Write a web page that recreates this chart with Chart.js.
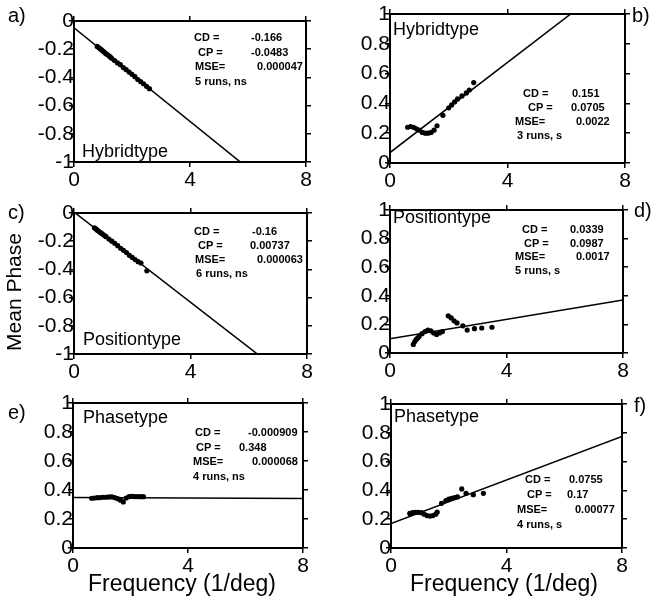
<!doctype html>
<html>
<head>
	<title>Mean Phase vs Frequency</title>
	<script src="https://cdn.jsdelivr.net/npm/chart.js@4.4.0/dist/chart.umd.min.js"></script>
	<style>
	body { margin: 0; background: #fff; }
	#fig { position: relative; width: 656px; height: 607px; font-family: "Liberation Sans", Arial, sans-serif; color: #000; }
	#fig canvas { position: absolute; }
	.lbl { position: absolute; font-size: 20px; line-height: 1; white-space: nowrap; }
	.title { position: absolute; font-size: 23px; line-height: 1; white-space: nowrap; transform: translate(-50%, -50%); }
	</style>
</head>

<body>
	<div id="fig">
		<canvas id="pa"></canvas>
		<canvas id="pb"></canvas>
		<canvas id="pc"></canvas>
		<canvas id="pd"></canvas>
		<canvas id="pe"></canvas>
		<canvas id="pf"></canvas>
		<div class="lbl" style="left:8px;top:5px">a)</div>
		<div class="lbl" style="left:632px;top:5px">b)</div>
		<div class="lbl" style="left:8px;top:202px">c)</div>
		<div class="lbl" style="left:634px;top:200px">d)</div>
		<div class="lbl" style="left:8px;top:402px">e)</div>
		<div class="lbl" style="left:634px;top:395px">f)</div>
		<div class="title" style="left:13px;top:292px;font-size:21px;transform:translate(-50%,-50%) rotate(-90deg)">Mean Phase</div>
		<div class="title" style="left:182px;top:583px">Frequency (1/deg)</div>
		<div class="title" style="left:504px;top:583px">Frequency (1/deg)</div>
	</div>
	<script>
		// tick values
		const xTicks = [0, 4, 8];
		const yTicksNeg = [-1, -0.8, -0.6, -0.4, -0.2, 0];
		const yTicksPos = [0, 0.2, 0.4, 0.6, 0.8, 1];

		// a) Hybridtype, ns
		const freqA = [0.8, 0.85, 0.9, 0.95, 1.0, 1.05, 1.1, 1.15, 1.2, 1.25, 1.3, 1.4, 1.5, 1.6, 1.7, 1.8, 1.9, 2.0, 2.1, 2.2, 2.3, 2.4, 2.5, 2.6];
		const phaseA = [-0.18, -0.188, -0.196, -0.205, -0.214, -0.222, -0.232, -0.238, -0.247, -0.255, -0.265, -0.28, -0.297, -0.31, -0.33, -0.345, -0.362, -0.378, -0.395, -0.415, -0.43, -0.445, -0.463, -0.48];
		// b) Hybridtype, s
		const freqB = [0.6, 0.7, 0.8, 0.9, 1.0, 1.1, 1.2, 1.3, 1.4, 1.5, 1.6, 1.8, 2.0, 2.1, 2.2, 2.3, 2.45, 2.6, 2.7, 2.85];
		const phaseB = [0.24, 0.245, 0.24, 0.23, 0.22, 0.205, 0.2, 0.2, 0.205, 0.22, 0.25, 0.32, 0.37, 0.39, 0.41, 0.43, 0.45, 0.47, 0.49, 0.54];
		// c) Positiontype, ns
		const freqC = [0.7, 0.75, 0.8, 0.85, 0.9, 0.95, 1.0, 1.05, 1.1, 1.2, 1.3, 1.4, 1.5, 1.6, 1.7, 1.8, 1.9, 2.0, 2.1, 2.2, 2.3, 2.5];
		const phaseC = [-0.105, -0.113, -0.122, -0.13, -0.138, -0.145, -0.153, -0.16, -0.168, -0.185, -0.2, -0.215, -0.232, -0.25, -0.265, -0.28, -0.3, -0.315, -0.33, -0.345, -0.355, -0.41];
		// d) Positiontype, s
		const freqD = [0.8, 0.85, 0.9, 0.95, 1.0, 1.1, 1.2, 1.3, 1.4, 1.5, 1.6, 1.7, 1.8, 2.0, 2.1, 2.2, 2.3, 2.5, 2.65, 2.9, 3.15, 3.5];
		const phaseD = [0.06, 0.08, 0.095, 0.105, 0.115, 0.135, 0.15, 0.16, 0.155, 0.14, 0.13, 0.14, 0.15, 0.26, 0.245, 0.225, 0.21, 0.19, 0.16, 0.17, 0.175, 0.18];
		// e) Phasetype, ns
		const freqE = [0.65, 0.75, 0.85, 0.95, 1.05, 1.15, 1.25, 1.35, 1.45, 1.55, 1.65, 1.75, 1.85, 1.95, 2.05, 2.15, 2.25, 2.35, 2.45];
		const phaseE = [0.343, 0.345, 0.347, 0.348, 0.35, 0.35, 0.352, 0.352, 0.348, 0.34, 0.33, 0.318, 0.345, 0.355, 0.356, 0.355, 0.355, 0.354, 0.354];
		// f) Phasetype, s
		const freqF = [0.65, 0.75, 0.85, 0.95, 1.05, 1.15, 1.25, 1.35, 1.45, 1.55, 1.6, 1.75, 1.9, 2.0, 2.1, 2.2, 2.3, 2.45, 2.6, 2.85, 3.2];
		const phaseF = [0.24, 0.245, 0.248, 0.248, 0.245, 0.235, 0.225, 0.222, 0.225, 0.235, 0.25, 0.31, 0.33, 0.34, 0.345, 0.35, 0.355, 0.41, 0.38, 0.37, 0.38];

		// fitted lines, phase at frequency 0 and 8
		const fitX = [0, 8];
		const fitA = [-0.048, -1.376];
		const fitB = [0.07, 1.28];
		const fitC = [0.007, -1.273];
		const fitD = [0.099, 0.37];
		const fitE = [0.348, 0.341];
		const fitF = [0.17, 0.774];

		const typeText = ['Hybridtype', 'Hybridtype', 'Positiontype', 'Positiontype', 'Phasetype', 'Phasetype'];
		const cdText = ['-0.166', '0.151', '-0.16', '0.0339', '-0.000909', '0.0755'];
		const cpText = ['-0.0483', '0.0705', '0.00737', '0.0987', '0.348', '0.17'];
		const mseText = ['0.000047', '0.0022', '0.000063', '0.0017', '0.000068', '0.00077'];
		const runsText = ['5 runs, ns', '3 runs, s', '6 runs, ns', '5 runs, s', '4 runs, ns', '4 runs, s'];

		// layout: canvas box [left, top, w, h], plot area [L, T, R, B] in page px,
		// text offsets relative to plot area
		const panels = [
			{ id: 'pa', box: [0, 0, 330, 195], plot: [74, 21, 306, 162], x: freqA, y: phaseA, fit: fitA, yt: yTicksNeg,
				type: [8, 131], lx: [120, 124, 121, 121], vx: [177, 177, 183], y0: 17, dy: 14.5 },
			{ id: 'pb', box: [330, 0, 305, 195], plot: [390, 14, 625, 163], x: freqB, y: phaseB, fit: fitB, yt: yTicksPos,
				type: [3, 16], lx: [133, 138, 125, 127], vx: [182, 181, 186], y0: 80, dy: 14 },
			{ id: 'pc', box: [0, 195, 330, 195], plot: [74, 213, 307, 354], x: freqC, y: phaseC, fit: fitC, yt: yTicksNeg,
				type: [9, 127], lx: [120, 124, 121, 122], vx: [178, 176, 183], y0: 19, dy: 14 },
			{ id: 'pd', box: [330, 195, 305, 195], plot: [390, 210, 623, 353], x: freqD, y: phaseD, fit: fitD, yt: yTicksPos,
				type: [3, 8], lx: [132, 134, 125, 125], vx: [180, 180, 186], y0: 20, dy: 13.5 },
			{ id: 'pe', box: [0, 390, 330, 190], plot: [73, 403, 303, 548], x: freqE, y: phaseE, fit: fitE, yt: yTicksPos,
				type: [10, 15], lx: [122, 123, 120, 120], vx: [175, 166, 179], y0: 30, dy: 14.5 },
			{ id: 'pf', box: [330, 390, 305, 190], plot: [391, 404, 622, 548], x: freqF, y: phaseF, fit: fitF, yt: yTicksPos,
				type: [3, 13], lx: [134, 136, 126, 126], vx: [178, 176, 184], y0: 76, dy: 15 }
		];

		const FONT = '"Liberation Sans", Arial, sans-serif';

		const panelText = {
			id: 'panelText',
			afterDraw(chart, args, opts) {
				const p = opts.panel;
				const i = opts.index;
				const a = chart.chartArea;
				const ctx = chart.ctx;
				ctx.save();
				ctx.fillStyle = '#000';
				ctx.textBaseline = 'middle';
				ctx.textAlign = 'left';
				ctx.font = '18px ' + FONT;
				ctx.fillText(typeText[i], a.left + p.type[0], a.top + p.type[1]);
				ctx.font = 'bold 11px ' + FONT;
				const labels = ['CD =', 'CP =', 'MSE=', runsText[i]];
				const vals = [cdText[i], cpText[i], mseText[i]];
				labels.forEach((t, k) => {
					ctx.fillText(t, a.left + p.lx[k], a.top + p.y0 + k * p.dy);
				});
				vals.forEach((t, k) => {
					ctx.fillText(t, a.left + p.vx[k], a.top + p.y0 + k * p.dy);
				});
				ctx.restore();
			}
		};

		function axis(pos, min, max, ticks, showLabels, size) {
			const horiz = pos === 'top' || pos === 'bottom';
			return {
				type: 'linear',
				position: pos,
				min: min,
				max: max,
				afterBuildTicks(scale) {
					scale.ticks = ticks.map(v => ({ value: v }));
				},
				afterFit(scale) {
					if (horiz) scale.height = size; else scale.width = size;
				},
				border: { display: true, color: '#000', width: 2 },
				grid: { display: true, drawOnChartArea: false, drawTicks: true, tickLength: 5, color: '#000', lineWidth: 1.5 },
				ticks: {
					display: showLabels,
					color: '#000',
					font: { family: FONT, size: 21 },
					padding: horiz ? 1 : -5,
					maxRotation: 0,
					autoSkip: false,
					callback: v => String(Math.round(v * 10) / 10)
				}
			};
		}

		panels.forEach((p, i) => {
			const cv = document.getElementById(p.id);
			const [cl, ct, cw, ch] = p.box;
			const [L, T, R, B] = p.plot;
			cv.width = cw;
			cv.height = ch;
			cv.style.left = cl + 'px';
			cv.style.top = ct + 'px';
			cv.style.width = cw + 'px';
			cv.style.height = ch + 'px';
			const ymin = p.yt[0];
			const ymax = p.yt[p.yt.length - 1];
			new Chart(cv.getContext('2d'), {
				type: 'scatter',
				data: {
					datasets: [{
						data: p.x.map((v, k) => ({ x: v, y: p.y[k] })),
						pointRadius: 2.6,
						pointBackgroundColor: '#000',
						pointBorderWidth: 0,
						showLine: false
					}, {
						data: fitX.map((v, k) => ({ x: v, y: p.fit[k] })),
						showLine: true,
						borderColor: '#000',
						borderWidth: 1.5,
						pointRadius: 0
					}]
				},
				options: {
					responsive: false,
					animation: false,
					layout: { padding: 0, autoPadding: false },
					plugins: {
						legend: { display: false },
						tooltip: { enabled: false },
						panelText: { panel: p, index: i }
					},
					scales: {
						x: axis('bottom', 0, 8, xTicks, true, ch - (B - ct)),
						x2: axis('top', 0, 8, xTicks, false, T - ct),
						y: axis('left', ymin, ymax, p.yt, true, L - cl),
						y2: axis('right', ymin, ymax, p.yt, false, cl + cw - R)
					}
				},
				plugins: [panelText]
			});
		});
	</script>
</body>

</html>
